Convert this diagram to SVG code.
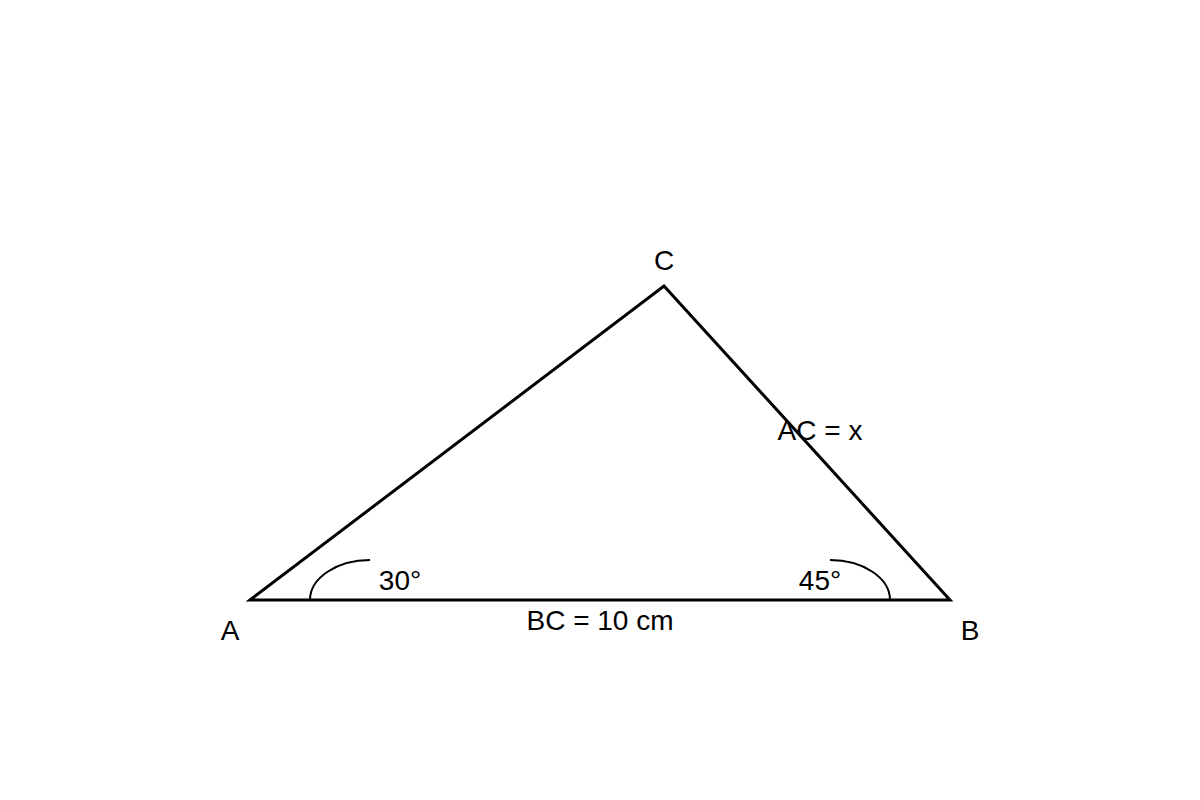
<svg xmlns="http://www.w3.org/2000/svg" width="1200" height="800" viewBox="0 0 1200 800">
<style>
text{font-family:"Liberation Sans",Arial,sans-serif;font-size:28px;fill:#000;text-anchor:middle}
.edge{fill:none;stroke:#000;stroke-width:3;stroke-linejoin:miter}
.arc{fill:none;stroke:#000;stroke-width:2}
</style>
<rect width="1200" height="800" fill="#fff"/>
<g id="connectors">
<polygon class="edge" points="250,600 950,600 664,286"/>
<path class="arc" d="M310,600 A60,40 0 0 1 370,560"/>
<path class="arc" d="M830,560 A60,40 0 0 1 890,600"/>
</g>
<g id="A"><text x="230" y="640">A</text></g>
<g id="B"><text x="970" y="640">B</text></g>
<g id="C"><text x="664" y="270">C</text></g>
<g id="labels">
<text x="400" y="590">30°</text>
<text x="820" y="590">45°</text>
<text x="820" y="440">AC = x</text>
<text x="600" y="630">BC = 10 cm</text>
</g>
</svg>
